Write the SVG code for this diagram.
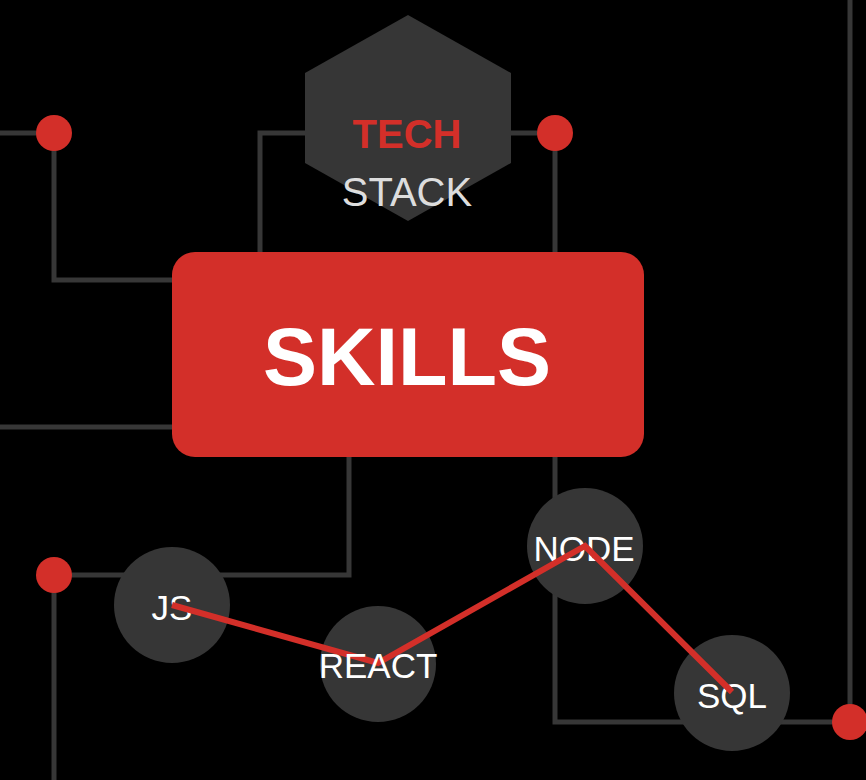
<svg xmlns="http://www.w3.org/2000/svg" width="866" height="780" viewBox="0 0 866 780">
<style>
.wire{fill:none;stroke:#373737;stroke-width:5}
.dot{fill:#d32f29}
.node{fill:#363636}
.lbl{font-family:"Liberation Sans",Arial,sans-serif;font-size:35px;fill:#ffffff;text-anchor:middle}
.path{fill:none;stroke:#d32f29;stroke-width:6;stroke-linejoin:miter}
</style>
<rect width="866" height="780" fill="#000000"/>
<g id="connectors">
<polyline class="wire" points="0,133 54,133 54,280 172,280"/>
<polyline class="wire" points="305,133 260,133 260,252"/>
<polyline class="wire" points="511,133 555,133 555,252"/>
<line class="wire" x1="0" y1="427" x2="172" y2="427"/>
<polyline class="wire" points="349,457 349,575 54,575 54,780"/>
<polyline class="wire" points="555,457 555,722 850,722 850,0"/>
</g>
<g id="dot-1"><circle class="dot" cx="54" cy="133" r="18"/></g>
<g id="dot-2"><circle class="dot" cx="555" cy="133" r="18"/></g>
<g id="dot-3"><circle class="dot" cx="54" cy="575" r="18"/></g>
<g id="dot-4"><circle class="dot" cx="850" cy="722" r="18"/></g>
<g id="tech-stack">
<polygon class="node" points="408,15 511,73 511,163 408,221 305,163 305,73"/>
<text x="407" y="148" font-family="'Liberation Sans',Arial,sans-serif" font-size="40" font-weight="bold" fill="#d32f29" text-anchor="middle">TECH</text>
<text x="407" y="206" font-family="'Liberation Sans',Arial,sans-serif" font-size="40" fill="#dddddd" text-anchor="middle">STACK</text>
</g>
<g id="skills">
<rect x="172" y="252" width="472" height="205" rx="23" fill="#d32f29"/>
<text x="407" y="385" font-family="'Liberation Sans',Arial,sans-serif" font-size="81" font-weight="bold" fill="#ffffff" text-anchor="middle">SKILLS</text>
</g>
<g id="js"><circle class="node" cx="172" cy="605" r="58"/><text class="lbl" x="172" y="620">JS</text></g>
<g id="react"><circle class="node" cx="378" cy="664" r="58"/></g>
<g id="node"><circle class="node" cx="585" cy="546" r="58"/><text class="lbl" x="584" y="561">NODE</text></g>
<g id="sql"><circle class="node" cx="732" cy="693" r="58"/><text class="lbl" x="732" y="708">SQL</text></g>
<g id="skill-path">
<polyline class="path" points="172,605 378,663 585,546 732,692"/>
</g>
<g id="react-label"><text class="lbl" x="378" y="678">REACT</text></g>
</svg>
